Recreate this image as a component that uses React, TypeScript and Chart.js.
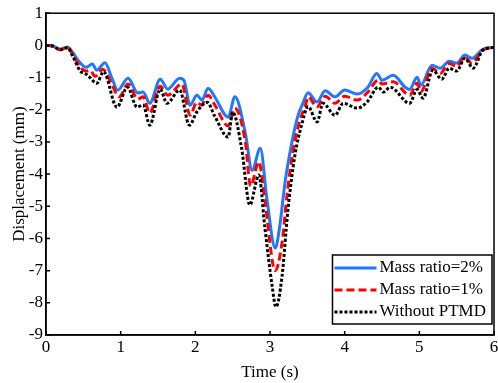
import React, { useEffect, useRef } from 'react';
import { Chart, registerables } from 'chart.js';

Chart.register(...registerables);

const seriesLabels = ['Mass ratio=2%', 'Mass ratio=1%', 'Without PTMD'];
const xTickValues = [0, 1, 2, 3, 4, 5, 6];
const yTickValues = [1, 0, -1, -2, -3, -4, -5, -6, -7, -8, -9];

const tBlue = [0, 0.09, 0.19, 0.29, 0.35, 0.46, 0.54, 0.62, 0.68, 0.79, 0.88, 0.96, 1.1, 1.23, 1.3, 1.39, 1.53, 1.63, 1.79, 1.85, 1.93, 2.02, 2.09, 2.17, 2.26, 2.44, 2.53, 2.67, 2.76, 2.87, 2.96, 3.07, 3.13, 3.2, 3.29, 3.37, 3.44, 3.51, 3.63, 3.74, 3.87, 4.0, 4.17, 4.31, 4.43, 4.5, 4.65, 4.81, 4.87, 4.97, 5.02, 5.17, 5.28, 5.4, 5.5, 5.61, 5.71, 5.85, 6.0];
const vBlue = [0, -0.02, -0.12, -0.05, -0.2, -0.55, -0.68, -0.58, -0.77, -0.54, -1.0, -1.39, -1.02, -1.48, -1.45, -1.8, -1.05, -1.36, -1.02, -1.1, -1.86, -1.55, -1.7, -1.33, -1.6, -2.23, -1.6, -2.73, -3.88, -3.2, -4.8, -6.3, -5.63, -4.28, -3.05, -2.22, -1.8, -1.47, -1.76, -1.41, -1.6, -1.39, -1.51, -1.3, -0.87, -1.08, -0.93, -1.3, -1.37, -0.99, -1.24, -0.62, -0.71, -0.49, -0.55, -0.3, -0.4, -0.12, -0.06];

const tRed = [0, 0.09, 0.19, 0.29, 0.35, 0.46, 0.54, 0.59, 0.66, 0.76, 0.88, 0.98, 1.1, 1.23, 1.3, 1.39, 1.53, 1.63, 1.82, 1.93, 2.02, 2.08, 2.17, 2.26, 2.44, 2.53, 2.67, 2.74, 2.85, 2.93, 3.07, 3.16, 3.23, 3.31, 3.4, 3.47, 3.51, 3.63, 3.74, 3.87, 4.0, 4.17, 4.31, 4.45, 4.5, 4.65, 4.87, 4.97, 5.02, 5.17, 5.28, 5.4, 5.5, 5.61, 5.7, 5.85, 6.0];
const vRed = [0, -0.02, -0.13, -0.06, -0.25, -0.68, -0.8, -0.78, -0.96, -0.74, -1.2, -1.6, -1.2, -1.67, -1.6, -2.1, -1.27, -1.55, -1.2, -2.17, -1.77, -1.85, -1.55, -1.85, -2.5, -1.95, -3.0, -4.37, -3.62, -4.8, -7.0, -6.15, -4.6, -3.26, -2.33, -1.9, -1.6, -1.91, -1.58, -1.8, -1.58, -1.7, -1.45, -1.08, -1.2, -1.13, -1.55, -1.18, -1.44, -0.71, -0.87, -0.56, -0.65, -0.36, -0.55, -0.15, -0.06];

const tBlack = [0, 0.09, 0.19, 0.29, 0.35, 0.46, 0.54, 0.59, 0.68, 0.77, 0.95, 1.09, 1.22, 1.3, 1.39, 1.53, 1.62, 1.79, 1.92, 2.02, 2.16, 2.26, 2.44, 2.5, 2.62, 2.73, 2.85, 2.93, 3.03, 3.08, 3.16, 3.24, 3.33, 3.43, 3.51, 3.63, 3.71, 3.87, 3.98, 4.17, 4.3, 4.45, 4.52, 4.61, 4.87, 4.97, 5.05, 5.18, 5.3, 5.4, 5.5, 5.61, 5.72, 5.85, 6.0];
const vBlack = [0, -0.02, -0.14, -0.07, -0.3, -0.8, -0.9, -1.0, -1.18, -0.82, -1.92, -1.3, -1.92, -1.85, -2.48, -1.36, -1.8, -1.39, -2.48, -2.07, -1.77, -2.2, -2.85, -2.07, -3.2, -4.96, -4.03, -5.64, -7.5, -8.13, -7.2, -5.12, -3.47, -2.42, -1.9, -2.38, -1.8, -2.17, -1.8, -1.95, -1.76, -1.3, -1.45, -1.3, -1.8, -1.37, -1.64, -0.77, -1.05, -0.71, -0.8, -0.4, -0.71, -0.15, -0.06];

const FONT = 'Liberation Serif, Times New Roman, serif';

const toPoints = (t: number[], v: number[]) => t.map((x, i) => ({ x, y: v[i] }));

const framePlugin = {
  id: 'frame',
  afterDatasetsDraw(chart: any) {
    const { ctx, chartArea, scales } = chart;
    const { left, right, top, bottom } = chartArea;
    ctx.save();
    ctx.strokeStyle = '#000';
    ctx.lineWidth = 1.5;
    ctx.strokeRect(left, top, right - left, bottom - top);
    ctx.beginPath();
    xTickValues.forEach((v) => {
      const px = scales.x.getPixelForValue(v);
      ctx.moveTo(px, bottom);
      ctx.lineTo(px, bottom - 4);
    });
    yTickValues.forEach((v) => {
      const py = scales.y.getPixelForValue(v);
      ctx.moveTo(left, py);
      ctx.lineTo(left + 4, py);
    });
    ctx.stroke();
    ctx.restore();
  },
};

const legendPlugin = {
  id: 'boxLegend',
  afterDraw(chart: any) {
    const { ctx, chartArea } = chart;
    const datasets = chart.data.datasets;
    ctx.save();
    ctx.font = '17px ' + FONT;
    let maxW = 0;
    datasets.forEach((d: any) => {
      maxW = Math.max(maxW, ctx.measureText(d.label).width);
    });
    const lineLen = 42;
    const boxW = 2 + lineLen + 3 + maxW + 6;
    const rowH = 22;
    const boxH = rowH * datasets.length + 3;
    const boxRight = chartArea.right - 2;
    const boxBottom = chartArea.bottom - 11;
    const boxLeft = boxRight - boxW;
    const boxTop = boxBottom - boxH;
    ctx.fillStyle = '#fff';
    ctx.fillRect(boxLeft, boxTop, boxW, boxH);
    ctx.strokeStyle = '#000';
    ctx.lineWidth = 1.5;
    ctx.strokeRect(boxLeft, boxTop, boxW, boxH);
    datasets.forEach((d: any, i: number) => {
      const cy = boxTop + 13 + i * rowH;
      ctx.beginPath();
      ctx.strokeStyle = d.borderColor;
      ctx.lineWidth = d.borderWidth;
      ctx.setLineDash(d.borderDash || []);
      ctx.moveTo(boxLeft + 2, cy);
      ctx.lineTo(boxLeft + 2 + lineLen, cy);
      ctx.stroke();
      ctx.setLineDash([]);
      ctx.fillStyle = '#000';
      ctx.textBaseline = 'middle';
      ctx.textAlign = 'left';
      ctx.fillText(d.label, boxLeft + 2 + lineLen + 3, cy);
    });
    ctx.restore();
  },
};

export default function App() {
  const canvasRef = useRef<HTMLCanvasElement | null>(null);

  useEffect(() => {
    if (!canvasRef.current) return;
    Chart.defaults.font.family = FONT;
    const chart = new Chart(canvasRef.current, {
      type: 'line',
      data: {
        datasets: [
          {
            label: seriesLabels[0],
            data: toPoints(tBlue, vBlue),
            borderColor: '#1f78ff',
            borderWidth: 3,
            pointRadius: 0,
            cubicInterpolationMode: 'monotone',
            order: 3,
          },
          {
            label: seriesLabels[1],
            data: toPoints(tRed, vRed),
            borderColor: '#ff0000',
            borderWidth: 3,
            borderDash: [8, 4],
            pointRadius: 0,
            cubicInterpolationMode: 'monotone',
            order: 2,
          },
          {
            label: seriesLabels[2],
            data: toPoints(tBlack, vBlack),
            borderColor: '#000000',
            borderWidth: 3,
            borderDash: [3, 2],
            pointRadius: 0,
            cubicInterpolationMode: 'monotone',
            order: 1,
          },
        ],
      } as any,
      options: {
        responsive: false,
        animation: false,
        events: [],
        layout: { padding: { top: 13, right: 4, left: 0, bottom: 0 } },
        plugins: {
          legend: { display: false },
          tooltip: { enabled: false },
        },
        scales: {
          x: {
            type: 'linear',
            min: 0,
            max: 6,
            afterBuildTicks: (scale: any) => {
              scale.ticks = xTickValues.map((v) => ({ value: v }));
            },
            ticks: { color: '#000', font: { size: 17, family: FONT }, padding: 2, maxRotation: 0 },
            grid: { display: true, drawOnChartArea: false, drawTicks: false },
            border: { display: true, color: '#000', width: 1.5 },
            title: {
              display: true,
              text: 'Time (s)',
              color: '#000',
              font: { size: 17, family: FONT },
              padding: { top: 0, bottom: 0 },
            },
            afterFit: (scale: any) => {
              scale.height = 48;
              scale.paddingRight = 0;
              scale.paddingLeft = 0;
            },
          },
          y: {
            type: 'linear',
            min: -9,
            max: 1,
            afterBuildTicks: (scale: any) => {
              scale.ticks = yTickValues.map((v) => ({ value: v }));
            },
            ticks: { color: '#000', font: { size: 17, family: FONT }, padding: 3 },
            grid: { display: true, drawOnChartArea: false, drawTicks: false },
            border: { display: true, color: '#000', width: 1.5 },
            title: {
              display: true,
              text: 'Displacement (mm)',
              color: '#000',
              font: { size: 17, family: FONT },
              padding: { top: 9, bottom: 0 },
            },
            afterFit: (scale: any) => {
              scale.width = 46;
            },
          },
        },
      } as any,
      plugins: [framePlugin, legendPlugin],
    });
    return () => chart.destroy();
  }, []);

  return (
    <div style={{ position: 'absolute', left: 0, top: 0, width: 498, height: 383, background: '#fff' }}>
      <canvas ref={canvasRef} width={498} height={383} style={{ display: 'block' }} />
    </div>
  );
}
